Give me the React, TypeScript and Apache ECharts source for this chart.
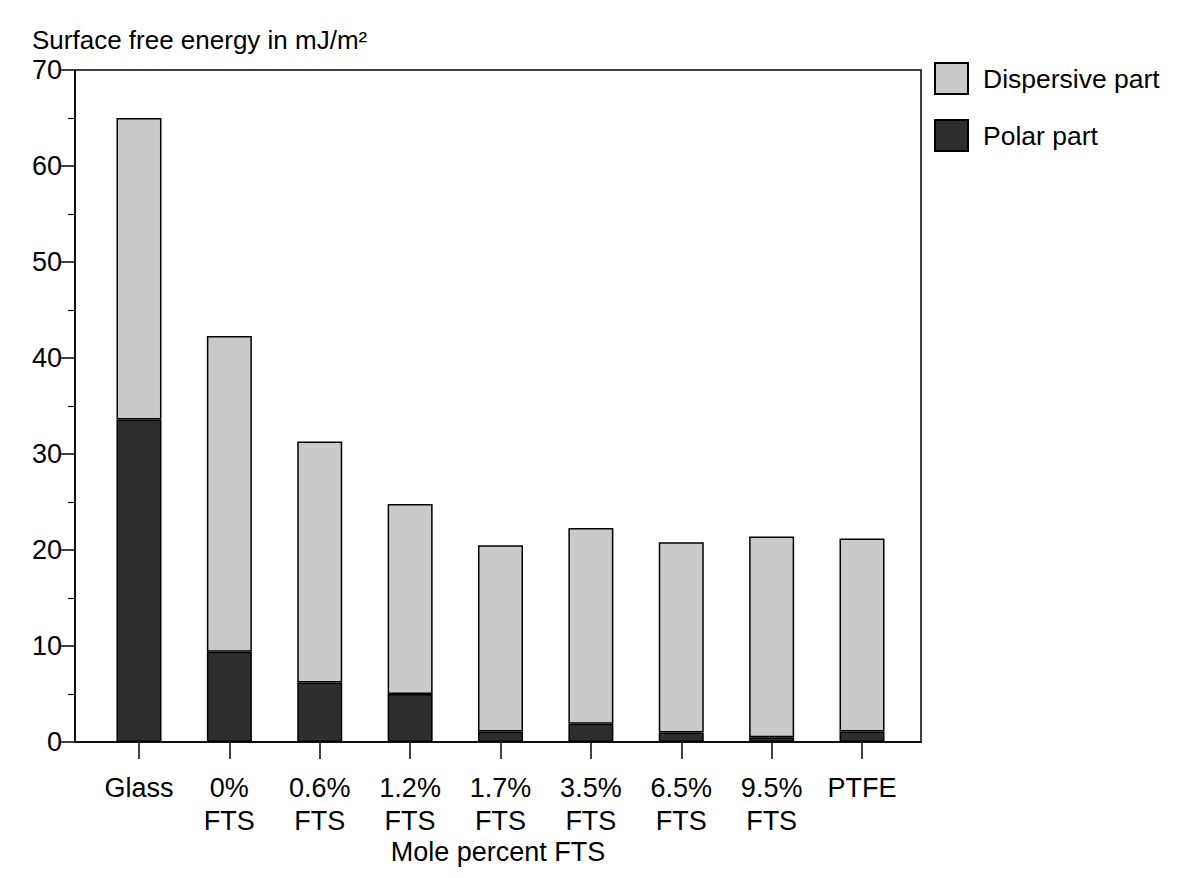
import React, { useEffect, useRef } from "react";
import * as echarts from "echarts";

const categories = ["Glass", "0%\nFTS", "0.6%\nFTS", "1.2%\nFTS", "1.7%\nFTS", "3.5%\nFTS", "6.5%\nFTS", "9.5%\nFTS", "PTFE"];
const polarPart = [33.6, 9.4, 6.2, 5.0, 1.1, 1.9, 1.0, 0.5, 1.1];
const dispersivePart = [31.4, 32.9, 25.1, 19.8, 19.4, 20.4, 19.8, 20.9, 20.1];
const yTicks = [0, 10, 20, 30, 40, 50, 60, 70];

const FONT = "Liberation Sans, Arial, Helvetica, sans-serif";

export default function App() {
  const ref = useRef<HTMLDivElement>(null);
  useEffect(() => {
    if (!ref.current) return;
    const chart = echarts.init(ref.current, null, { renderer: "svg" });
    chart.setOption({
      animation: false,
      backgroundColor: "#fff",
      textStyle: { fontFamily: FONT, color: "#000" },
      title: {
        text: "Surface free energy in mJ/m²",
        left: 27,
        top: 22,
        textStyle: { fontFamily: FONT, fontSize: 26, fontWeight: "normal", color: "#000" },
      },
      legend: {
        orient: "vertical",
        left: 934,
        top: 62,
        padding: 0,
        itemWidth: 33,
        itemHeight: 31,
        itemGap: 24,
        icon: "rect",
        data: ["Dispersive part", "Polar part"],
        textStyle: { fontFamily: FONT, fontSize: 26.5, color: "#000", padding: [0, 0, 0, 10] },
      },
      grid: [
        { left: 75, right: 263, top: 70, bottom: 136, show: true, borderColor: "#000", borderWidth: 1.5, backgroundColor: "transparent" },
        { left: 93.8, right: 276.8, top: 70, bottom: 136 },
      ],
      xAxis: [
        {
          gridIndex: 0,
          type: "value",
          min: 0,
          max: 1,
          axisLine: { show: true, lineStyle: { color: "#000", width: 1.5 } },
          axisTick: { show: false },
          axisLabel: { show: false },
          splitLine: { show: false },
          name: "Mole percent FTS",
          nameLocation: "middle",
          nameGap: 96,
          nameTextStyle: { fontFamily: FONT, fontSize: 27, color: "#000" },
        },
        {
          gridIndex: 1,
          type: "category",
          data: categories,
          axisLine: { show: false },
          axisTick: { show: true, alignWithLabel: true, length: 17, lineStyle: { color: "#000", width: 1.5 } },
          axisLabel: { fontFamily: FONT, fontSize: 27, color: "#000", margin: 29, lineHeight: 33, interval: 0 },
          splitLine: { show: false },
        },
      ],
      yAxis: [
        {
          gridIndex: 0,
          type: "value",
          min: 0,
          max: 70,
          interval: 10,
          axisLine: { show: true, lineStyle: { color: "#000", width: 1.5 } },
          axisTick: { show: true, inside: false, length: 14, lineStyle: { color: "#000", width: 1.5 } },
          minorTick: { show: true, splitNumber: 2, length: 7, lineStyle: { color: "#000", width: 1.2 } },
          axisLabel: {
            fontFamily: FONT,
            fontSize: 27,
            color: "#000",
            margin: 13,
            formatter: (v: number) => (yTicks.includes(v) ? String(v) : ""),
          },
          splitLine: { show: false },
        },
        {
          gridIndex: 1,
          type: "value",
          min: 0,
          max: 70,
          show: false,
          splitLine: { show: false },
        },
      ],
      series: [
        {
          name: "Polar part",
          type: "bar",
          stack: "total",
          xAxisIndex: 1,
          yAxisIndex: 1,
          barWidth: 45,
          data: polarPart,
          itemStyle: { color: "#2e2e2e", borderColor: "#000", borderWidth: 1.5 },
        },
        {
          name: "Dispersive part",
          type: "bar",
          stack: "total",
          xAxisIndex: 1,
          yAxisIndex: 1,
          barWidth: 45,
          data: dispersivePart,
          itemStyle: { color: "#cacaca", borderColor: "#000", borderWidth: 1.5 },
        },
      ],
    });
    return () => chart.dispose();
  }, []);
  return <div ref={ref} style={{ width: 1184, height: 878, position: "absolute", left: 0, top: 0 }} />;
}
